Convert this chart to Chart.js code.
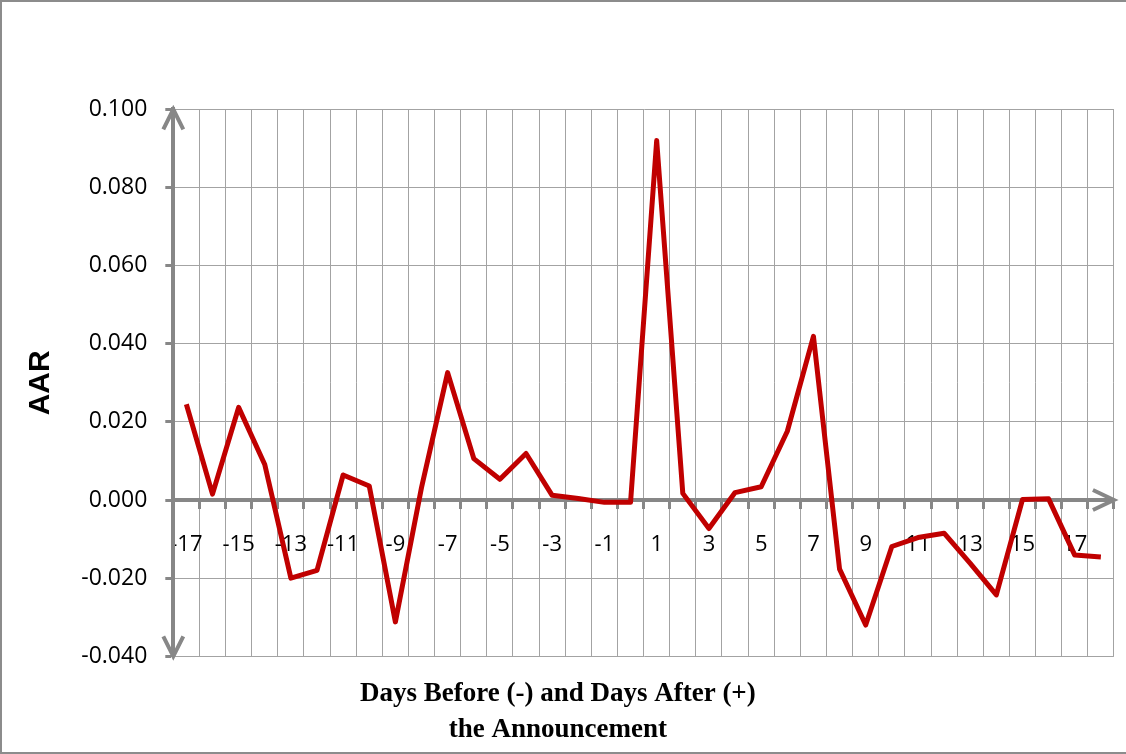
<!DOCTYPE html>
<html>
<head>
<meta charset="utf-8">
<script src="https://cdn.jsdelivr.net/npm/chart.js@4.4.0/dist/chart.umd.min.js"></script>
<style>
  html, body { margin: 0; padding: 0; background: #ffffff; }
  #wrap { width: 1126px; height: 754px; position: relative; }
</style>
</head>
<body>
<div id="wrap"><canvas id="c"></canvas></div>
<script>
const days = [-17,-16,-15,-14,-13,-12,-11,-10,-9,-8,-7,-6,-5,-4,-3,-2,-1,0,1,2,3,4,5,6,7,8,9,10,11,12,13,14,15,16,17,18];
const aar = [0.0245,0.0015,0.0237,0.0091,-0.0200,-0.0180,0.0064,0.0036,-0.0312,0.0032,0.0326,0.0106,0.0053,0.0119,0.0012,0.0004,-0.0006,-0.0006,0.0920,0.0017,-0.0073,0.0019,0.0034,0.0176,0.0419,-0.0177,-0.0320,-0.0119,-0.0096,-0.0085,-0.0162,-0.0243,0.0001,0.0003,-0.0141,-0.0146];
const yMin = -0.04, yMax = 0.10, yStep = 0.02;
const yTitle = 'AAR';
const xTitle = ['Days Before (-) and Days After (+)', 'the Announcement'];

const axisGray = '#878787';
const gridGray = '#a3a3a3';

const decor = {
  id: 'decor',
  beforeDraw(chart) {
    const ctx = chart.ctx;
    ctx.save();
    ctx.fillStyle = '#ffffff';
    ctx.fillRect(0, 0, chart.width, chart.height);
    ctx.restore();
  },
  beforeDatasetsDraw(chart) {
    const {ctx, chartArea: a, scales: {y}} = chart;
    const x0 = a.left;
    const y0 = y.getPixelForValue(0);
    ctx.save();
    ctx.strokeStyle = axisGray;
    ctx.lineWidth = 4;
    ctx.lineJoin = 'miter';
    ctx.beginPath();
    ctx.moveTo(x0 - 10, a.top + 20); ctx.lineTo(x0, a.top); ctx.lineTo(x0 + 10, a.top + 20);
    ctx.moveTo(x0 - 10, a.bottom - 20); ctx.lineTo(x0, a.bottom); ctx.lineTo(x0 + 10, a.bottom - 20);
    ctx.moveTo(a.right - 21, y0 - 10); ctx.lineTo(a.right, y0); ctx.lineTo(a.right - 21, y0 + 10);
    ctx.stroke();
    ctx.restore();
  },
  afterDraw(chart) {
    const ctx = chart.ctx;
    ctx.save();
    ctx.fillStyle = '#8c8c8c';
    ctx.fillRect(0, 0, chart.width, 2);
    ctx.fillRect(0, 0, 2, chart.height);
    ctx.fillRect(0, chart.height - 2, chart.width, 2);
    ctx.restore();
  }
};

new Chart(document.getElementById('c'), {
  type: 'line',
  data: {
    labels: days.map(String),
    datasets: [{
      label: yTitle,
      data: aar,
      borderColor: '#c00000',
      borderWidth: 5,
      pointRadius: 0,
      pointHoverRadius: 0,
      tension: 0,
      borderJoinStyle: 'round',
      borderCapStyle: 'butt',
      fill: false
    }]
  },
  options: {
    responsive: true,
    maintainAspectRatio: false,
    animation: false,
    devicePixelRatio: 1,
    layout: { padding: { left: 0, top: 109.3, right: 10.3, bottom: 5.7 } },
    plugins: {
      legend: { display: false },
      tooltip: { enabled: false },
      title: {
        display: true,
        position: 'bottom',
        text: xTitle,
        color: '#000000',
        font: { family: '"Liberation Serif", "Times New Roman", serif', size: 27, weight: 'bold', lineHeight: 36 / 27 },
        padding: { top: 20, bottom: 0 }
      }
    },
    scales: {
      x: {
        type: 'category',
        axis: 'x',
        position: { y: 0 },
        offset: true,
        grid: {
          offset: true,
          color: gridGray,
          lineWidth: 1,
          drawTicks: true,
          tickLength: 7,
          tickWidth: 3,
          tickColor: axisGray
        },
        border: { display: true, color: axisGray, width: 4 },
        ticks: {
          autoSkip: false,
          maxRotation: 0,
          minRotation: 0,
          padding: 25,
          color: '#000000',
          font: { family: '"Open Sans", sans-serif', size: 22 },
          callback: function(v, i) { return i % 2 === 0 ? this.getLabelForValue(v) : ''; }
        }
      },
      y: {
        type: 'linear',
        position: 'left',
        min: yMin,
        max: yMax,
        afterFit(scale) { scale.width = 173.3; },
        grid: {
          color: gridGray,
          lineWidth: 1,
          drawTicks: true,
          tickLength: 8,
          tickWidth: 3,
          tickColor: axisGray
        },
        border: { display: true, color: axisGray, width: 4 },
        ticks: {
          stepSize: yStep,
          padding: 18,
          color: '#000000',
          font: { family: '"Open Sans", sans-serif', size: 23 },
          callback: (v) => Number(v).toFixed(3)
        },
        title: {
          display: true,
          text: yTitle,
          color: '#000000',
          font: { family: '"Liberation Sans", Arial, sans-serif', size: 30, weight: 'bold' },
          padding: { top: 22.5, bottom: 0 }
        }
      }
    }
  },
  plugins: [decor]
});
</script>
</body>
</html>
